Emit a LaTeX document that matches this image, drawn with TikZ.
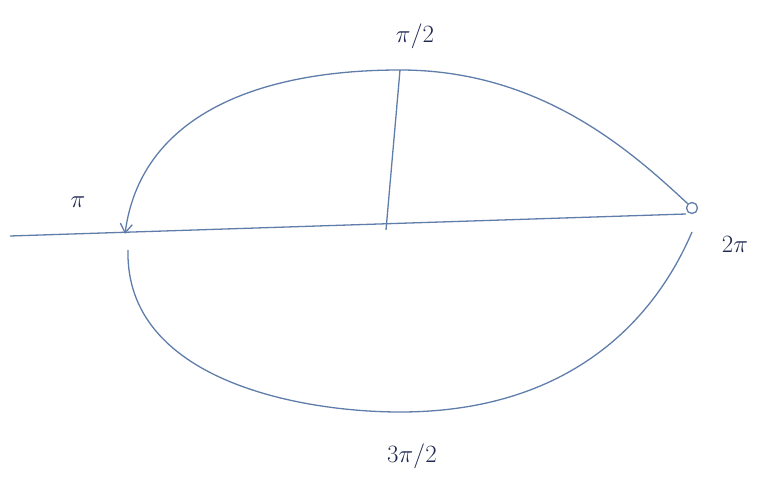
\documentclass[tikz,border=0pt]{standalone}
\usetikzlibrary{arrows.meta}
\definecolor{pen}{RGB}{95,125,170}
\definecolor{ink}{RGB}{30,40,80}
\begin{document}
\begin{tikzpicture}[x=1pt,y=-1pt,
  penline/.style={draw=pen,line width=1.3pt},
  lab/.style={text=ink,font=\fontsize{28}{32}\selectfont}]
\useasboundingbox (0,0) rectangle (758,479);
\coordinate (L0) at (10,236);
\coordinate (R0) at (686,214);
\coordinate (C) at (386,230);
\coordinate (T) at (400,70);
\coordinate (B) at (400,412);
\coordinate (lp) at (125,234);
\coordinate (lb) at (128,250);
\coordinate (rb) at (692,232);
\node[circle,draw=pen,line width=1.3pt,inner sep=0pt,minimum size=11pt] (rp) at (692,208) {};
\draw[penline] (L0) -- (R0);
\draw[penline] (C) -- (T);
\draw[penline,-{Straight Barb[length=9pt,width=12pt]}] (rp.north west) .. controls (630,150) and (540,70) .. (T) .. controls (250,70) and (140,120) .. (lp);
\draw[penline] (lb) .. controls (125,380) and (300,412) .. (B) .. controls (560,412) and (650,330) .. (rb);
\node[lab] (lhalf) at (415,36) {$\pi/2$};
\node[lab] (lpi) at (78,202) {$\pi$};
\node[lab] (l2pi) at (735,244) {$2\pi$};
\node[lab] (l3pi) at (412,456) {$3\pi/2$};
\end{tikzpicture}
\end{document}
